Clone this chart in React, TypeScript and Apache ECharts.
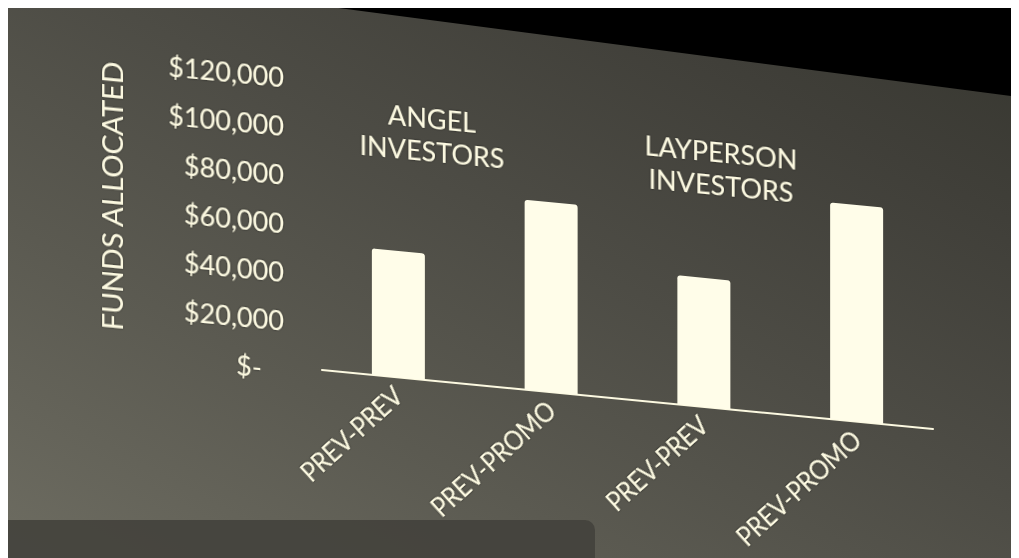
import React, { useEffect, useRef } from "react";
import * as echarts from "echarts";

// ---- data ----
const categories = ["PREV-PREV", "PREV-PROMO", "PREV-PREV", "PREV-PROMO"];
const groupTitles = ["ANGEL\nINVESTORS", "LAYPERSON\nINVESTORS"];
const fundsAllocated = [52000, 78000, 53000, 89000];
const yMin = 0;
const yMax = 120000;
const yInterval = 20000;
const yAxisTitle = "FUNDS ALLOCATED";

const CREAM = "#fcf9e1";
const FONT = 'Lato, "Noto Sans", sans-serif';

export default function App() {
  const ref = useRef<HTMLDivElement>(null);

  useEffect(() => {
    if (!ref.current) return;
    const chart = echarts.init(ref.current, null, { renderer: "svg" });
    const halo = {
      textShadowColor: "rgba(20,20,15,0.55)",
      textShadowBlur: 2,
    };
    chart.setOption({
      animation: false,
      backgroundColor: "transparent",
      grid: { left: 314, right: 86, top: 71, bottom: 191, containLabel: false },
      xAxis: {
        type: "category",
        data: categories,
        axisLine: { show: true, lineStyle: { color: CREAM, width: 2 } },
        axisTick: { show: false },
        axisLabel: {
          rotate: 45,
          margin: 14,
          interval: 0,
          color: CREAM,
          fontSize: 25,
          fontFamily: FONT,
          ...halo,
        },
      },
      yAxis: {
        type: "value",
        min: yMin,
        max: yMax,
        interval: yInterval,
        name: yAxisTitle,
        nameLocation: "middle",
        nameRotate: 90,
        nameGap: 196,
        nameTextStyle: {
          color: CREAM,
          fontSize: 29,
          fontFamily: FONT,
          padding: [0, 0, 0, 16],
          ...halo,
        },
        axisLine: { show: false },
        axisTick: { show: false },
        splitLine: { show: false },
        axisLabel: {
          margin: 38,
          color: CREAM,
          fontSize: 27,
          fontFamily: FONT,
          padding: [6, 0, 0, 0],
          ...halo,
          formatter: (v: number) =>
            v === 0 ? "{z|$-}" : "$" + v.toLocaleString("en-US"),
          rich: {
            z: { color: CREAM, fontSize: 27, fontFamily: FONT, padding: [0, 22, 0, 0] },
          },
        },
      },
      graphic: [
        {
          type: "text",
          x: 424,
          y: 84,
          style: {
            text: groupTitles[0],
            fill: CREAM,
            font: `27px ${FONT}`,
            textAlign: "center",
            textVerticalAlign: "top",
            lineHeight: 33,
            textShadowColor: "rgba(20,20,15,0.55)",
            textShadowBlur: 2,
          },
        },
        {
          type: "text",
          x: 713,
          y: 90,
          style: {
            text: groupTitles[1],
            fill: CREAM,
            font: `27px ${FONT}`,
            textAlign: "center",
            textVerticalAlign: "top",
            lineHeight: 33,
            textShadowColor: "rgba(20,20,15,0.55)",
            textShadowBlur: 2,
          },
        },
      ],
      series: [
        {
          type: "bar",
          data: fundsAllocated,
          barWidth: 53,
          itemStyle: {
            color: "#fffde9",
            borderRadius: [3, 3, 0, 0],
          },
        },
      ],
    });
    return () => chart.dispose();
  }, []);

  return (
    <div
      style={{
        position: "relative",
        width: 1011,
        height: 554,
        marginTop: -4,
        overflow: "hidden",
        background:
          "linear-gradient(to top right, #6d6c61 0%, #5b5a51 30%, #4d4c45 55%, #403f39 80%, #36362f 100%)",
      }}
    >
      <div
        style={{
          position: "absolute",
          left: 0,
          top: 0,
          width: 1011,
          height: 554,
          background: "#000",
          clipPath: "polygon(300px 0, 1011px 0, 1011px 93px)",
        }}
      />
      <div
        ref={ref}
        style={{
          position: "absolute",
          left: 0,
          top: 0,
          width: 1011,
          height: 554,
          transform: "skewY(5.5deg)",
          transformOrigin: "282px 363px",
        }}
      />
      <div
        style={{
          position: "absolute",
          left: 0,
          top: 516,
          width: 587,
          height: 60,
          borderTopRightRadius: 10,
          background: "rgba(66,65,59,0.88)",
        }}
      />
    </div>
  );
}
